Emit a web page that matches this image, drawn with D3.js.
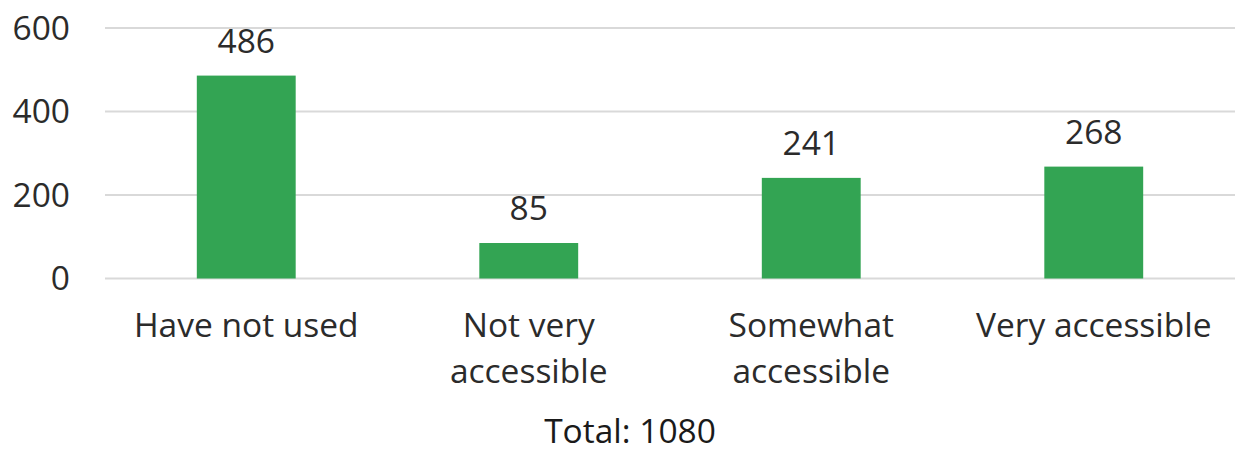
<!DOCTYPE html>
<html>
<head>
<meta charset="utf-8">
<script src="https://cdn.jsdelivr.net/npm/d3@7"></script>
<style>
  body { margin: 0; background: #fff; }
  svg text { font-family: "Open Sans", sans-serif; }
</style>
</head>
<body>
<svg id="chart" width="1235" height="454"></svg>
<script>
const categories = ["Have not used", "Not very accessible", "Somewhat accessible", "Very accessible"]
const categoryLines = [["Have not used"], ["Not very", "accessible"], ["Somewhat", "accessible"], ["Very accessible"]]
const counts = [486, 85, 241, 268]
const yTicks = [0, 200, 400, 600]
const totalLabel = "Total: 1080"

const svg = d3.select("#chart")
const margin = { top: 28, right: 0, bottom: 175, left: 105 }
const width = +svg.attr("width")
const fontSize = "33.5px"

const x = d3.scaleBand()
    .domain(categories)
    .range([margin.left, width - margin.right])
    .padding(0)

const barW = x.bandwidth() * 0.35

const y = d3.scaleLinear()
    .domain([0, 600])
    .range([278.5, margin.top])

// gridlines
svg.append("g")
    .selectAll("line")
    .data(yTicks)
    .enter()
    .append("line")
    .attr("x1", margin.left)
    .attr("x2", width - margin.right)
    .attr("y1", d => y(d))
    .attr("y2", d => y(d))
    .style("stroke", "#d9d9d9")
    .style("stroke-width", 2)

// y labels
svg.append("g")
    .selectAll("text")
    .data(yTicks)
    .enter()
    .append("text")
    .attr("x", 70)
    .attr("y", d => y(d) + 11.5)
    .attr("text-anchor", "end")
    .style("font-size", fontSize)
    .style("fill", "#2b2b2b")
    .text(d => d)

// bars
svg.append("g")
    .selectAll("rect")
    .data(counts)
    .enter()
    .append("rect")
    .attr("x", (d, i) => x(categories[i]) + x.bandwidth() / 2 - barW / 2)
    .attr("y", d => y(d))
    .attr("width", barW)
    .attr("height", d => y(0) - y(d))
    .style("fill", "#33a453")

// value labels
svg.append("g")
    .selectAll("text")
    .data(counts)
    .enter()
    .append("text")
    .attr("x", (d, i) => x(categories[i]) + x.bandwidth() / 2)
    .attr("y", d => y(d) - 23)
    .attr("text-anchor", "middle")
    .style("font-size", fontSize)
    .style("fill", "#2b2b2b")
    .text(d => d)

// category labels
const cat = svg.append("g")
    .selectAll("text")
    .data(categoryLines)
    .enter()
    .append("text")
    .attr("x", (d, i) => x(categories[i]) + x.bandwidth() / 2)
    .attr("y", 337)
    .attr("text-anchor", "middle")
    .style("font-size", fontSize)
    .style("fill", "#2b2b2b")

cat.selectAll("tspan")
    .data(d => d)
    .enter()
    .append("tspan")
    .attr("x", function () { return d3.select(this.parentNode).attr("x") })
    .attr("dy", (d, i) => i === 0 ? 0 : 46)
    .text(d => d)

svg.append("text")
    .attr("x", 630)
    .attr("y", 443)
    .attr("text-anchor", "middle")
    .style("font-size", fontSize)
    .style("fill", "#1a1a1a")
    .text(totalLabel)
</script>
</body>
</html>
